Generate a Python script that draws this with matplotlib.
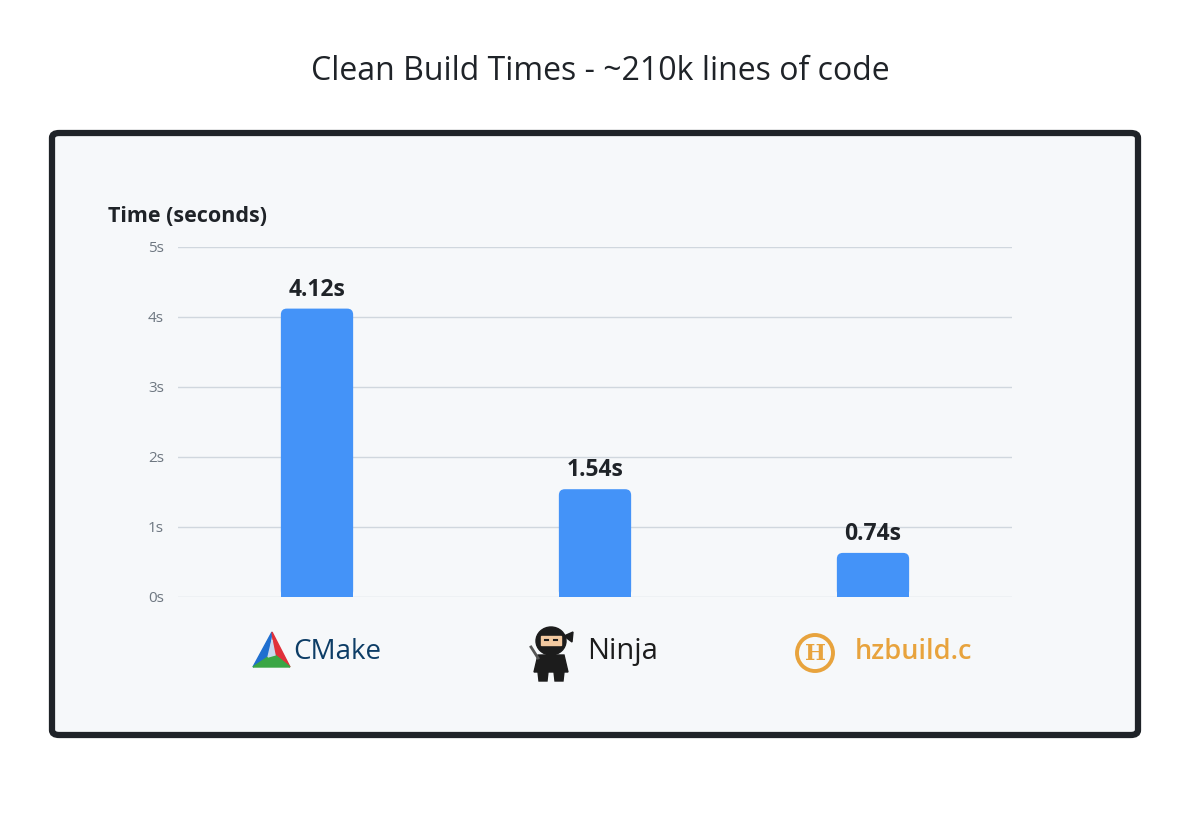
#!/usr/bin/env python3
# -*- coding: utf-8 -*-

import matplotlib
matplotlib.use("Agg")
import matplotlib.pyplot as plot
from matplotlib.patches import FancyBboxPatch, Polygon, Circle, Ellipse

tools = ["CMake", "Ninja", "hzbuild.c"]
times = [4.12, 1.54, 0.63]
time_labels = ["4.12s", "1.54s", "0.74s"]
ticks = [0, 1, 2, 3, 4, 5]
tick_labels = ["0s", "1s", "2s", "3s", "4s", "5s"]

W, H = 1200, 817
plot.rcParams["font.family"] = ["Open Sans", "DejaVu Sans"]

fig = plot.figure(figsize=(W / 100, H / 100), dpi=100)
fig.patch.set_facecolor("white")

fig.text(0.5, 1 - 72 / H, "Clean Build Times - ~210k lines of code",
         ha="center", va="center", fontsize=23, color="#1f2328")

panel = FancyBboxPatch((52 / W, 1 - 735 / H), 1086 / W, 602 / H,
                       boxstyle="round,pad=0,rounding_size=0.006",
                       transform=fig.transFigure, facecolor="#f6f8fa",
                       edgecolor="#1f2328", linewidth=4.5, zorder=-5)
fig.patches.append(panel)

ax = fig.add_axes([178 / W, 1 - 597 / H, 834 / W, 350 / H])
ax.set_facecolor("none")
x = list(range(len(tools)))
bar_w = 0.26
ax.set_xlim(-0.5, len(tools) - 0.5)
ax.set_ylim(0, 5)

# rounded top corners: plain lower part + rounded box over full height
px_x = 3 / 834
px_y = 5 / 350
r = 6 * px_x
bars = ax.bar(x, [t - 8 * px_y for t in times], width=bar_w, color="#4493f8", zorder=3)
for xi, t in zip(x, times):
    ax.add_patch(FancyBboxPatch((xi - bar_w / 2, 0), bar_w, t,
                                boxstyle=f"round,pad=0,rounding_size={r}",
                                mutation_aspect=px_y / px_x,
                                facecolor="#4493f8", edgecolor="none", zorder=3))

ax.set_yticks(ticks)
ax.set_yticklabels(tick_labels)
ax.set_xticks([])
ax.tick_params(axis="y", length=0, pad=10, labelsize=11, labelcolor="#6e7781")
ax.grid(axis="y", color="#d0d7de", linewidth=1)
for s in ax.spines.values():
    s.set_visible(False)

for xi, t, lab in zip(x, times, time_labels):
    ax.annotate(lab, (xi, t), xytext=(0, 5), textcoords="offset points",
                ha="center", va="bottom", fontsize=16.5, fontweight="bold",
                color="#1f2328")

fig.text(108 / W, 1 - 216 / H, "Time (seconds)", ha="left", va="center",
         fontsize=15.5, fontweight="bold", color="#1f2328")

# logo row drawn in a pixel-space overlay
ov = fig.add_axes([0, 0, 1, 1])
ov.set_xlim(0, W)
ov.set_ylim(H, 0)
ov.axis("off")
ov.patch.set_alpha(0)

yc = 652
# CMake
ov.add_patch(Polygon([(272, 632), (253, 667), (268, 657)], closed=True, color="#1f6fd0"))
ov.add_patch(Polygon([(272, 632), (290, 667), (275, 655)], closed=True, color="#e0303a"))
ov.add_patch(Polygon([(253, 667), (290, 667), (275, 655), (268, 657)], closed=True, color="#3aa645"))
ov.add_patch(Polygon([(272, 640), (268, 657), (275, 655)], closed=True, color="#c9d9ef"))
ov.text(293, yc, tools[0], ha="left", va="center", fontsize=20, color="#0d3d66")

# Ninja
ov.add_patch(Ellipse((551, 641), 30, 28, color="#1c1c1c"))
ov.add_patch(Polygon([(538, 655), (564, 655), (568, 672), (534, 672)], closed=True, color="#1c1c1c"))
ov.add_patch(Polygon([(538, 672), (548, 672), (547, 681), (539, 681)], closed=True, color="#1c1c1c"))
ov.add_patch(Polygon([(554, 672), (564, 672), (563, 681), (555, 681)], closed=True, color="#1c1c1c"))
ov.add_patch(Polygon([(541, 636), (561, 636), (561, 645), (541, 645)], closed=True, color="#f3c9a0"))
ov.plot([545, 548], [640, 640], color="#1c1c1c", linewidth=1.5)
ov.plot([554, 557], [640, 640], color="#1c1c1c", linewidth=1.5)
ov.add_patch(Polygon([(564, 636), (573, 632), (572, 642)], closed=True, color="#1c1c1c"))
ov.plot([531, 538], [647, 658], color="#555555", linewidth=2)
ov.text(587, yc, tools[1], ha="left", va="center", fontsize=21, color="#1c1c1c")

# hzbuild.c
ov.add_patch(Circle((815, 653), 18, facecolor="none", edgecolor="#e8a33d", linewidth=2.8))
ov.text(815, 654, "H", ha="center", va="center", fontsize=16, fontweight="bold",
        color="#e8a33d", family="DejaVu Serif")
ov.text(855, yc, tools[2], ha="left", va="center", fontsize=19.5, fontweight="semibold",
        color="#e8a33d")

fig.savefig("out.png", dpi=100)
